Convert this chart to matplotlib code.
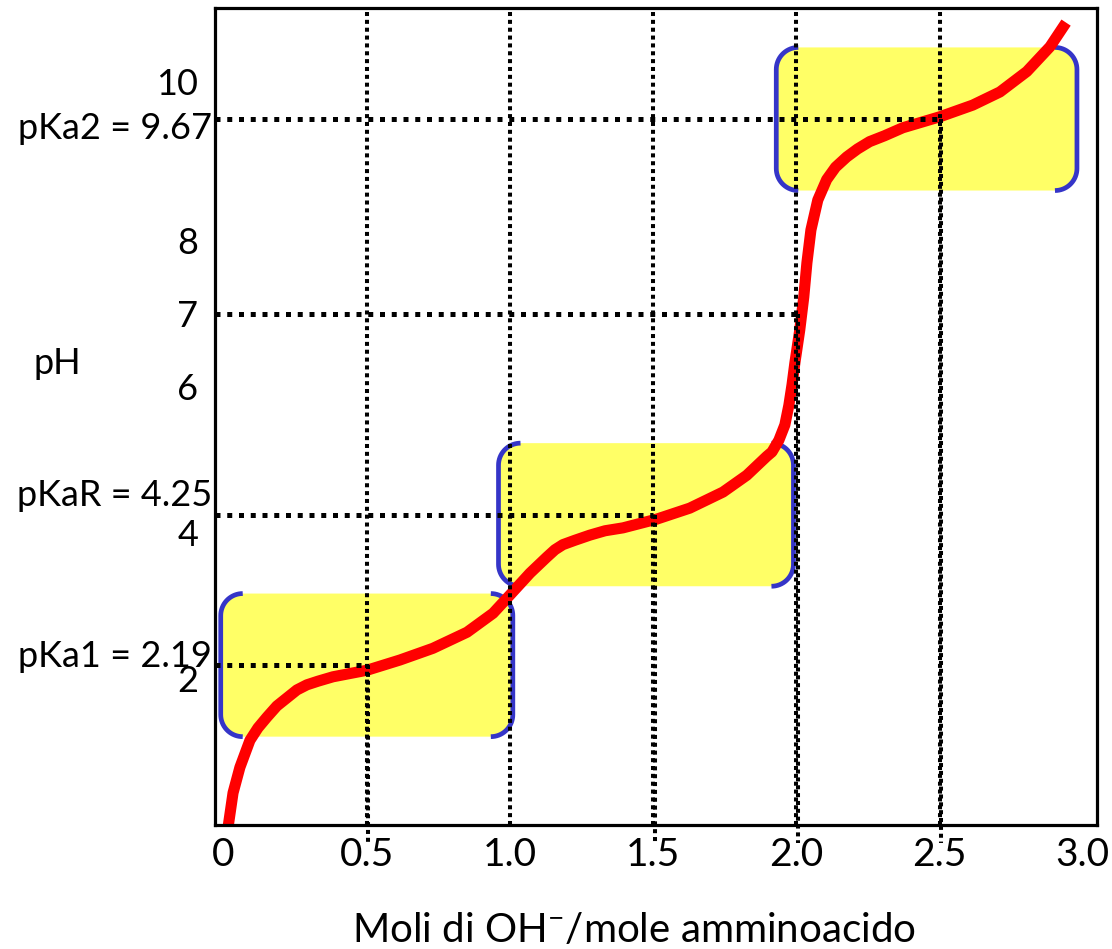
import numpy as np
import matplotlib
matplotlib.use("Agg")
import matplotlib.pyplot as plt
from matplotlib import font_manager
from matplotlib.patches import Polygon
from matplotlib.transforms import ScaledTranslation

# Titration curve: moles of OH- added per mole of amino acid vs pH
moles_oh = [0.013, 0.033, 0.057, 0.092, 0.120, 0.152, 0.186, 0.221, 0.256,
            0.291, 0.330, 0.382, 0.501, 0.616, 0.731, 0.850, 0.941, 1.000,
            1.070, 1.129, 1.157, 1.185, 1.227, 1.279, 1.332, 1.395, 1.513,
            1.628, 1.744, 1.827, 1.897, 1.915, 1.939, 1.960, 1.974, 1.985,
            1.995, 2.012, 2.026, 2.037, 2.051, 2.075, 2.106, 2.137, 2.176,
            2.214, 2.256, 2.308, 2.372, 2.501, 2.616, 2.711, 2.805, 2.886,
            2.942]
ph_values = [-0.10, 0.44, 0.79, 1.16, 1.33, 1.48, 1.63, 1.74, 1.85,
             1.92, 1.97, 2.03, 2.12, 2.26, 2.42, 2.64, 2.90, 3.15,
             3.45, 3.67, 3.77, 3.84, 3.90, 3.97, 4.03, 4.07, 4.19,
             4.34, 4.56, 4.79, 5.05, 5.11, 5.27, 5.48, 5.75, 6.03,
             6.33, 6.78, 7.23, 7.70, 8.15, 8.56, 8.84, 9.01, 9.15,
             9.26, 9.36, 9.44, 9.55, 9.70, 9.86, 10.04, 10.32, 10.66,
             10.99]

# Dissociation constants and the buffer zones around them
pka_labels = ["pKa1 = 2.19", "pKaR = 4.25", "pKa2 = 9.67"]
pka_values = [2.19, 4.25, 9.67]
pka_half_points = [0.5, 1.5, 2.5]
buffer_x_ranges = [(-0.01, 1.01), (0.96, 1.99), (1.93, 2.98)]
buffer_half_width = 0.98

neutral_ph = 7.0
equivalence_point = 2.0

grid_x = [0.5, 1.0, 1.5, 2.0, 2.5]
x_ticks = [0, 0.5, 1.0, 1.5, 2.0, 2.5, 3.0]
x_tick_labels = ["0", "0.5", "1.0", "1.5", "2.0", "2.5", "3.0"]
y_ticks = [2, 4, 6, 7, 8, 10]
y_tick_labels = ["2", "4", "6", "7", "8", "10"]

# Fonts
names = {f.name for f in font_manager.fontManager.ttflist}
base_font = "Lato" if "Lato" in names else "DejaVu Sans"
plt.rcParams["font.family"] = [base_font, "DejaVu Sans"]
plt.rcParams["mathtext.fontset"] = "custom"
plt.rcParams["mathtext.rm"] = base_font
plt.rcParams["mathtext.it"] = base_font
plt.rcParams["mathtext.default"] = "regular"

W, H, DPI = 1112, 949, 100
fig = plt.figure(figsize=(W / DPI, H / DPI), dpi=DPI)
ax = fig.add_axes([215 / W, 1 - 825 / H, 882 / W, 817 / H])
xlim = (-0.03, 3.05)
ylim = (0.0, 11.19)
ax.set_xlim(*xlim)
ax.set_ylim(*ylim)

# pixels per data unit, used to draw circular corners
px_x = 882 / (xlim[1] - xlim[0])
px_y = 817 / (ylim[1] - ylim[0])
r_px = 22
rx, ry = r_px / px_x, r_px / px_y

yellow = "#FFFF66"
blue = "#3535C8"

def arc(cx, cy, a0, a1, n=18):
    t = np.linspace(np.radians(a0), np.radians(a1), n)
    return np.column_stack([cx + rx * np.cos(t), cy + ry * np.sin(t)])

for (x0, x1), pka in zip(buffer_x_ranges, pka_values):
    y0, y1 = pka - buffer_half_width, pka + buffer_half_width
    outline = np.vstack([
        arc(x1 - rx, y1 - ry, 0, 90),
        arc(x0 + rx, y1 - ry, 90, 180),
        arc(x0 + rx, y0 + ry, 180, 270),
        arc(x1 - rx, y0 + ry, 270, 360),
    ])
    ax.add_patch(Polygon(outline, closed=True, facecolor=yellow,
                         edgecolor="none", zorder=1))
    left = np.vstack([arc(x0 + rx, y1 - ry, 90, 180),
                      arc(x0 + rx, y0 + ry, 180, 270)])
    right = np.vstack([arc(x1 - rx, y0 + ry, 270, 360),
                       arc(x1 - rx, y1 - ry, 0, 90)])
    for seg in (left, right):
        ax.plot(seg[:, 0], seg[:, 1], color=blue, lw=3.4,
                solid_capstyle="butt", solid_joinstyle="round", zorder=2)

# titration curve
ax.plot(moles_oh, ph_values, color="#FF0000", lw=8.0,
        solid_capstyle="butt", solid_joinstyle="round", zorder=3)

# dotted guide lines
v_style = dict(color="black", lw=2.9, linestyle=(0, (1.0, 0.95)),
               dash_capstyle="butt", zorder=4)
h_style = dict(color="black", lw=3.6, linestyle=(0, (1.0, 1.35)),
               dash_capstyle="butt", zorder=4)
for gx in grid_x:
    ax.axvline(gx, **v_style)

shift = ScaledTranslation(1.5 / DPI, 0, fig.dpi_scale_trans)
for xe, yv in zip(pka_half_points + [equivalence_point],
                  pka_values + [neutral_ph]):
    ax.plot([xlim[0], xe], [yv, yv], **h_style)
    ax.plot([xe, xe], [yv, -0.25], clip_on=False,
            transform=ax.transData + shift, **v_style)

# pKa annotations left of the axis
pka_offsets = [-2, 9, -20]
for label, yv, dy in zip(pka_labels, pka_values, pka_offsets):
    ax.annotate(label, xy=(0, yv), xycoords=ax.get_yaxis_transform(),
                xytext=(-3 * 0.72, dy * 0.72), textcoords="offset points",
                ha="right", va="baseline", fontsize=26, annotation_clip=False)

# axes and ticks
for sp in ax.spines.values():
    sp.set_linewidth(2.3)
    sp.set_color("black")
    sp.set_zorder(5)

ax.set_xticks(x_ticks)
ax.set_xticklabels(x_tick_labels, fontsize=28)
ax.set_yticks(y_ticks)
ax.set_yticklabels(y_tick_labels, fontsize=26)
ax.tick_params(axis="both", length=0)
ax.tick_params(axis="x", pad=9)
ax.tick_params(axis="y", pad=12)
for lab in ax.get_yticklabels():
    if lab.get_text() == "10":
        lab.set_transform(lab.get_transform() +
                          ScaledTranslation(0, 13 / DPI, fig.dpi_scale_trans))

ax.set_xlabel("Moli di OH$^{-}$/mole amminoacido", fontsize=29, va="center")
ax.xaxis.set_label_coords(0.475, -(930 - 825) / 817)
ax.set_ylabel("pH", fontsize=26, rotation=0, ha="center", va="center")
ax.yaxis.set_label_coords((57 - 215) / 882, (825 - 363) / 817)

fig.savefig("out.png", dpi=DPI)
